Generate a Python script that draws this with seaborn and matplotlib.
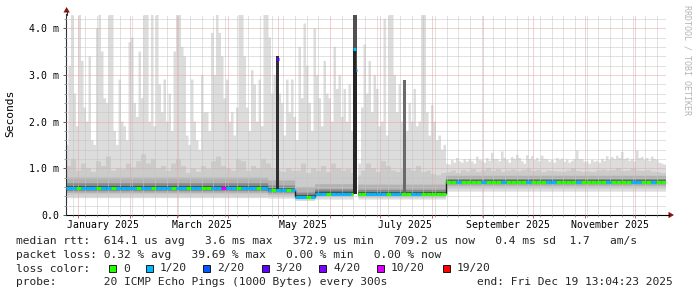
import numpy as np
import pandas as pd
import matplotlib
matplotlib.use("Agg")
import matplotlib.pyplot as plt
import matplotlib.dates as mdates
import matplotlib.ticker as mticker
from matplotlib.patches import Polygon, Rectangle
from matplotlib.lines import Line2D
from matplotlib.collections import LineCollection
import seaborn as sns

# ---------------------------------------------------------------- data
END = "2025-12-19 13:04:23"
SPAN_DAYS = 360
MAX_STEP_DAYS = 1.5     # step of rtt_max_ms
STEP_DAYS = 3           # step of loss_idx and rtt_p90_ms

# highest ping of each 1.5-day step (ms)
rtt_max_ms = [
    1.5, 3.2, 4.3, 2.6, 1.9, 4.3, 3.3, 2.3, 2.0, 3.4,
    1.6, 1.5, 4.0, 4.3, 3.5, 2.5, 2.4, 4.3, 4.3, 1.8,
    1.5, 2.9, 2.0, 1.9, 1.6, 3.7, 3.8, 2.4, 2.1, 3.5,
    2.5, 4.3, 4.3, 2.0, 4.3, 1.9, 4.3, 2.8, 2.2, 2.9,
    2.0, 2.6, 1.8, 3.5, 4.3, 4.3, 3.6, 3.4, 1.7, 1.5,
    2.9, 2.0, 1.6, 1.4, 3.0, 2.2, 2.2, 1.8, 3.9, 3.0,
    4.3, 3.9, 3.4, 2.5, 2.9, 2.0, 2.2, 1.7, 2.3, 4.3,
    4.3, 3.4, 2.3, 1.8, 3.1, 2.8, 2.0, 2.9, 1.9, 4.3,
    4.3, 3.8, 2.6, 3.0, 2.0, 2.6, 2.4, 1.7, 2.9, 2.2,
    2.9, 2.1, 1.6, 3.6, 2.5, 4.1, 3.2, 2.4, 1.8, 4.0,
    3.0, 2.5, 1.9, 3.3, 2.6, 2.5, 2.0, 3.6, 2.7, 3.0,
    2.1, 2.7, 2.0, 2.8, 1.8, 1.5, 1.5, 1.1, 2.3, 3.65,
    2.6, 3.3, 2.2, 3.0, 2.7, 1.9, 2.0, 4.2, 1.7, 4.3,
    4.3, 3.0, 2.2, 2.8, 2.0, 2.3, 1.8, 2.4, 2.0, 2.7,
    1.9, 2.0, 4.3, 4.3, 2.2, 1.7, 2.35, 2.0, 1.6, 1.7,
    1.4, 1.5,
    1.10, 1.08, 1.18, 1.12, 1.22, 1.15, 1.12, 1.20, 1.14, 1.20,
    1.15, 1.10, 1.25, 1.18, 1.17, 1.12, 1.22, 1.16, 1.33, 1.20,
    1.20, 1.15, 1.36, 1.22, 1.18, 1.12, 1.24, 1.20, 1.29, 1.22,
    1.15, 1.10, 1.28, 1.20, 1.26, 1.18, 1.22, 1.15, 1.27, 1.20,
    1.20, 1.14, 1.18, 1.12, 1.22, 1.18, 1.21, 1.14, 1.19, 1.12,
    1.16, 1.20, 1.38, 1.20, 1.20, 1.14, 1.15, 1.10, 1.18, 1.14,
    1.16, 1.12, 1.20, 1.16, 1.26, 1.18, 1.24, 1.20, 1.27, 1.22,
    1.35, 1.20, 1.22, 1.16, 1.20, 1.15, 1.38, 1.22, 1.24, 1.18,
    1.22, 1.16, 1.25, 1.20, 1.18, 1.12, 1.10, 1.08,
]

# 90th-percentile ping of each 3-day step (ms)
rtt_p90_ms = [
    1.05, 1.20, 0.95, 1.10, 1.00, 0.92, 1.15, 1.05, 1.25, 0.95,
    1.00, 0.98, 1.10, 1.02, 1.15, 1.30, 1.10, 1.20, 1.00, 1.05,
    0.95, 1.10, 1.20, 1.05, 0.90, 1.00, 0.92, 1.05, 0.98, 1.15,
    1.25, 1.05, 1.00, 0.95, 1.20, 1.15, 0.95, 1.05, 1.00, 1.20,
    1.10, 1.00, 0.95, 0.92, 1.00, 0.95,
    0.95, 1.10, 0.90, 1.00,
    0.95, 1.05, 0.92, 1.10, 1.00, 0.95, 0.98, 0.90,
    0.85, 0.95, 1.10, 1.00, 0.92, 1.15, 1.05, 0.95, 0.92, 0.98,
    1.00, 0.95, 1.05, 0.92, 0.95, 0.88, 0.85,
    0.90, 0.92, 0.95, 0.90, 0.96, 0.93, 0.98, 0.92, 0.95, 1.00,
    0.94, 0.98, 0.92, 0.95, 0.97, 0.93, 0.96, 0.98, 0.94, 0.96,
    0.92, 0.95, 0.94, 0.93, 0.92, 0.95, 1.00, 0.94, 0.92, 0.93,
    0.92, 0.95, 0.97, 0.95, 0.96, 1.00, 0.94, 0.95, 1.00, 0.95,
    0.94, 0.96, 0.93, 0.92, 0.90,
]

# loss class of each 3-day step (index into loss_labels)
loss_idx = [
    1, 1, 0, 1, 1, 1, 0, 1, 1, 0, 1, 1, 1, 1, 0, 1, 1, 0, 1, 1,
    1, 0, 1, 1, 0, 1, 1, 0, 0, 1, 1, 5, 1, 1, 0, 1, 1, 1, 0, 1,
    1, 0, 1, 1, 0, 1,
    1, 1, 0, 1,
    1, 1, 0, 1, 1, 1, 1, 0,
    0, 0, 1, 1, 1, 1, 0, 1, 1, 0, 0, 1, 1, 0, 0, 0, 0,
    0, 0, 0, 1, 0, 0, 0, 0, 1, 0, 0, 0, 1, 0, 0, 0, 0, 1, 0, 0,
    0, 1, 1, 0, 0, 0, 0, 1, 0, 0, 0, 0, 0, 1, 0, 0, 0, 0, 1, 1,
    0, 0, 1, 0, 0,
]

# regimes of the ping distribution (ms)
seg_start = ["2024-12-24 13:04", "2025-04-24 20:00", "2025-05-11 00:00",
             "2025-05-23 00:00", "2025-06-15 00:00", "2025-06-17 22:00",
             "2025-08-09 12:00"]
seg_min = [0.36, 0.35, 0.30, 0.33, np.nan, 0.33, 0.50]
seg_p10 = [0.42, 0.40, 0.33, 0.38, np.nan, 0.37, 0.57]
seg_p20 = [0.47, 0.44, 0.35, 0.41, np.nan, 0.40, 0.62]
seg_p30 = [0.51, 0.48, 0.36, 0.43, np.nan, 0.42, 0.66]
seg_p40 = [0.55, 0.51, 0.37, 0.44, np.nan, 0.43, 0.68]
seg_median = [0.585, 0.535, 0.39, 0.46, np.nan, 0.45, 0.705]
seg_p60 = [0.62, 0.57, 0.43, 0.50, np.nan, 0.49, 0.74]
seg_p70 = [0.68, 0.63, 0.48, 0.55, np.nan, 0.54, 0.77]
seg_p80 = [0.80, 0.74, 0.60, 0.66, np.nan, 0.65, 0.84]

# short outage spikes
spike_start = ["2025-04-29 20:00", "2025-06-15 00:00", "2025-06-16 08:00",
               "2025-07-15 00:00", "2025-08-09 06:00"]
spike_end = ["2025-05-01 08:00", "2025-06-16 08:00", "2025-06-17 00:00",
             "2025-07-16 14:00", "2025-08-09 20:00"]
spike_base = [0.52, 0.44, 0.44, 0.44, 0.46]
spike_core_top = [3.40, 3.56, 3.11, 2.90, 2.31]
spike_top = [3.40, 4.30, 4.30, 2.90, 2.31]
spike_median = [3.33, 3.56, 3.11, np.nan, np.nan]
spike_loss = [3, 1, 1, 0, 0]

loss_labels = ["0", "1/20", "2/20", "3/20", "4/20", "10/20", "19/20"]
loss_colors = ["#26ff00", "#00b8ff", "#0059ff", "#5e00ff", "#7e00ff", "#dd00ff", "#ff0000"]

ytick_vals = [0.0, 1.0, 2.0, 3.0, 4.0]
ytick_labels = ["0.0", "1.0 m", "2.0 m", "3.0 m", "4.0 m"]
xlabel_dates = ["2025-01-16", "2025-03-16", "2025-05-16", "2025-07-16",
                "2025-09-16", "2025-11-16"]
xlabel_texts = ["January 2025", "March 2025", "May 2025", "July 2025",
                "September 2025", "November 2025"]

legend_row1 = "median rtt:  614.1 us avg   3.6 ms max   372.9 us min   709.2 us now   0.4 ms sd  1.7   am/s"
legend_row2 = "packet loss: 0.32 % avg   39.69 % max   0.00 % min   0.00 % now"
legend_row3 = "loss color:"
legend_row4 = "probe:       20 ICMP Echo Pings (1000 Bytes) every 300s"
legend_end = "end: Fri Dec 19 13:04:23 2025"

# ---------------------------------------------------------------- style
W, H = 697, 297
sns.set_theme(style="white")
plt.rcParams["font.family"] = ["DejaVu Sans Mono"]
MONO = "DejaVu Sans Mono"
SMOKE = ["#dcdcdc", "#cbcbcb", "#b2b2b2", "#8a8a8a", "#4e4e4e"]
spike_outer_colors = ["#2e2e2e", "#505050", "#505050", "#6a6a6a", "#9c9c9c"]
spike_core_colors = ["#2e2e2e", "#262626", "#262626", "#6a6a6a", "#9c9c9c"]
GRID_MINOR = "#c4c4c4"
GRID_MAJOR = "#eaa4a4"
ARROW = "#8b1010"


def fx(x):
    return x / W


def fy(y):
    return 1 - y / H


fig = plt.figure(figsize=(W / 100, H / 100), dpi=100, facecolor="white")
ax = fig.add_axes([fx(66), fy(215), 600 / W, 200.5 / H])
ax.set_facecolor("white")

end = pd.Timestamp(END)
start = end - pd.Timedelta(days=SPAN_DAYS)
t = pd.date_range(start, end, freq="1h")
tn = mdates.date2num(t.values)
elapsed = (t - start) / pd.Timedelta(days=1)
max_i = np.minimum(np.floor(elapsed / MAX_STEP_DAYS).astype(int), len(rtt_max_ms) - 1)
step_i = np.minimum(np.floor(elapsed / STEP_DAYS).astype(int), len(loss_idx) - 1)
seg_ts = pd.to_datetime(seg_start)
seg_i = np.searchsorted(seg_ts.values, t.values, side="right") - 1


def S(arr):
    return np.asarray(arr, float)[seg_i]


valid = ~np.isnan(S(seg_median))
mx = np.where(valid, np.asarray(rtt_max_ms, float)[max_i], np.nan)
p90 = np.where(valid, np.asarray(rtt_p90_ms, float)[step_i], np.nan)

ax.fill_between(tn, S(seg_min), mx, step="post", color=SMOKE[0], lw=0, zorder=1)
ax.fill_between(tn, S(seg_p10), p90, step="post", color=SMOKE[1], lw=0, zorder=1.1)
ax.fill_between(tn, S(seg_p20), S(seg_p80), step="post", color=SMOKE[2], lw=0, zorder=1.2)
ax.fill_between(tn, S(seg_p30), S(seg_p70), step="post", color=SMOKE[3], lw=0, zorder=1.3)
ax.fill_between(tn, S(seg_p40), S(seg_p60), step="post", color=SMOKE[4], lw=0, zorder=1.4)

# spikes
for k in range(len(spike_start)):
    xs = mdates.date2num(pd.to_datetime([spike_start[k], spike_end[k]]).values)
    ax.fill_between(xs, spike_base[k], spike_top[k], color=spike_outer_colors[k], lw=0, zorder=3)
    ax.fill_between(xs, spike_base[k], spike_core_top[k], color=spike_core_colors[k], lw=0, zorder=3.1)
    if not np.isnan(spike_median[k]):
        ax.hlines(spike_median[k], xs[0], xs[1], colors=loss_colors[spike_loss[k]],
                  linewidth=2.2, zorder=4).set_capstyle("butt")

# median line coloured by loss
step_edges = [start + pd.Timedelta(days=STEP_DAYS * i) for i in range(len(loss_idx))]
edges = sorted(set(step_edges) | set(seg_ts) | {end})
edges = [e for e in edges if start <= e <= end]
segs, cols, conn = [], [], []
prev = None
for a, b in zip(edges[:-1], edges[1:]):
    mid = a + (b - a) / 2
    si = np.searchsorted(seg_ts.values, np.datetime64(mid), side="right") - 1
    bi = min(int((mid - start) / pd.Timedelta(days=STEP_DAYS)), len(loss_idx) - 1)
    med = seg_median[si]
    an, bn = mdates.date2num(a), mdates.date2num(b)
    if np.isnan(med):
        prev = None
        continue
    if prev is not None and prev != med:
        conn.append(((an, prev), (an, med)))
    segs.append(((an, med), (bn, med)))
    cols.append(loss_colors[loss_idx[bi]])
    prev = med
ax.add_collection(LineCollection(conn, colors="#202020", linewidths=1.0, zorder=3.9))
ax.add_collection(LineCollection(segs, colors=cols, linewidths=2.2, capstyle="butt", zorder=4))

# axes
ax.set_xlim(mdates.date2num(start), mdates.date2num(end))
ax.set_ylim(0, 4.293)
ax.xaxis.set_major_locator(mdates.MonthLocator())
ax.xaxis.set_minor_locator(mdates.WeekdayLocator(byweekday=mdates.SU))
ax.xaxis.set_major_formatter(mticker.NullFormatter())
ax.set_yticks(ytick_vals, ytick_labels)
ax.yaxis.set_minor_locator(mticker.MultipleLocator(0.2))
ax.set_axisbelow(False)
ax.grid(True, which="minor", color=GRID_MINOR, linestyle=(0, (1, 1)), linewidth=0.72)
ax.grid(True, which="major", color=GRID_MAJOR, linestyle=(0, (1, 1)), linewidth=0.72)
ax.tick_params(axis="y", which="major", length=2, width=0.7, color="#555555",
               pad=3, labelsize=7.1, labelcolor="black", direction="out", left=True)
ax.tick_params(axis="y", which="minor", length=1.5, width=0.6, color="#888888", direction="out", left=True)
ax.tick_params(axis="x", which="major", length=2, width=0.7, color="#c06060", direction="out", bottom=True)
ax.tick_params(axis="x", which="minor", length=1.5, width=0.6, color="#999999", direction="out", bottom=True)
for lab in ax.get_yticklabels():
    lab.set_family(MONO)
for side in ("top", "right"):
    ax.spines[side].set_visible(False)
ax.spines["left"].set_color("#333333")
ax.spines["left"].set_linewidth(0.8)
ax.spines["bottom"].set_color("black")
ax.spines["bottom"].set_linewidth(0.8)

for d, txt in zip(xlabel_dates, xlabel_texts):
    ax.text(mdates.date2num(pd.Timestamp(d)), -10 / 200.5, txt, transform=ax.get_xaxis_transform(),
            ha="center", va="center", fontsize=7.1, family=MONO, color="black")

# axis arrows
fig.add_artist(Line2D([fx(66.5), fx(66.5)], [fy(15), fy(11)], color="#333333", lw=0.8))
fig.add_artist(Polygon([(fx(63.5), fy(12.5)), (fx(69.8), fy(12.5)), (fx(66.6), fy(7))],
                       closed=True, color=ARROW, lw=0))
fig.add_artist(Line2D([fx(666), fx(669)], [fy(215), fy(215)], color="black", lw=0.8))
fig.add_artist(Polygon([(fx(668.5), fy(211.8)), (fx(668.5), fy(218.2)), (fx(674), fy(215))],
                       closed=True, color=ARROW, lw=0))

# side texts
fig.text(fx(10), fy(113), "Seconds", rotation=90, ha="center", va="center",
         fontsize=8.1, family=MONO, color="black")
fig.text(fx(687), fy(60), "RRDTOOL / TOBI OETIKER", rotation=270, ha="center", va="center",
         fontsize=6, family=MONO, color="#b4b4b4")

# legend
LEG = 8.1
fig.text(fx(16), fy(241), legend_row1, ha="left", va="center", fontsize=LEG, family=MONO)
fig.text(fx(16), fy(255), legend_row2, ha="left", va="center", fontsize=LEG, family=MONO)
fig.text(fx(16), fy(268.5), legend_row3, ha="left", va="center", fontsize=LEG, family=MONO)
box_x = [109, 145.7, 203.3, 261.7, 319.3, 377.3, 442.5]
for bx, lab, col in zip(box_x, loss_labels, loss_colors):
    fig.add_artist(Rectangle((fx(bx), fy(272)), 7 / W, 7 / H, facecolor=col,
                             edgecolor="black", lw=0.6, transform=fig.transFigure))
    fig.text(fx(bx + 13.8), fy(268.5), lab, ha="left", va="center", fontsize=LEG, family=MONO)
fig.text(fx(16), fy(282), legend_row4, ha="left", va="center", fontsize=LEG, family=MONO)
fig.text(fx(477), fy(282), legend_end, ha="left", va="center", fontsize=LEG, family=MONO)

fig.savefig("out.png", dpi=100, facecolor="white")
